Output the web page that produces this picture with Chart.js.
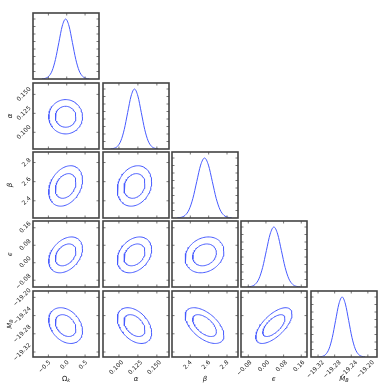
<!DOCTYPE html>
<html>
<head>
<meta charset="utf-8">
<script src="https://cdn.jsdelivr.net/npm/chart.js@4.4.1/dist/chart.umd.min.js"></script>
<style>
  body { margin: 0; background: #fff; }
  #wrap { position: relative; width: 390px; height: 390px; overflow: hidden; background: #fff; }
  #wrap canvas { position: absolute; left: 0; top: 0; }
</style>
</head>
<body>
<div id="wrap"></div>
<script>
// ---------------- DATA ----------------
const paramLabels = ["Ω", "α", "β", "ϵ", "M"];
const paramSubs = ["k", "", "", "", "B"];

// axis limits (columns use x*, rows use y*)
const xMin = [-0.92, 0.079, 2.20, -0.113, -19.337];
const xMax = [0.88, 0.166, 2.92, 0.186, -19.178];
const yMin = [0, 0.078, 2.22, -0.111, -19.331];
const yMax = [1, 0.165, 2.91, 0.191, -19.186];

const tickValues = [
    [-0.5, 0.0, 0.5],
    [0.100, 0.125, 0.150],
    [2.4, 2.6, 2.8],
    [-0.08, 0.00, 0.08, 0.16],
    [-19.32, -19.28, -19.24, -19.20]
];
const tickLabels = [
    ["−0.5", "0.0", "0.5"],
    ["0.100", "0.125", "0.150"],
    ["2.4", "2.6", "2.8"],
    ["−0.08", "0.00", "0.08", "0.16"],
    ["−19.32", "−19.28", "−19.24", "−19.20"]
];
const densityTicks = [0.125, 0.25, 0.375, 0.5, 0.625, 0.75, 0.875, 1.0];

// 1D marginals: x positions, shared relative heights
const margOmegaK = [-0.678, -0.585, -0.493, -0.40, -0.308, -0.215, -0.123, -0.03, 0.063, 0.155, 0.248, 0.34, 0.433, 0.525, 0.618];
const margAlpha = [0.0890, 0.0935, 0.098, 0.1025, 0.107, 0.1115, 0.116, 0.1205, 0.125, 0.1295, 0.134, 0.1385, 0.143, 0.1475, 0.152];
const margBeta = [2.2575, 2.30, 2.3425, 2.385, 2.4275, 2.47, 2.5125, 2.555, 2.5975, 2.64, 2.6825, 2.725, 2.7675, 2.81, 2.8525];
const margEps = [-0.083, -0.066, -0.049, -0.032, -0.015, 0.002, 0.019, 0.036, 0.053, 0.070, 0.087, 0.104, 0.121, 0.138, 0.155];
const margMB = [-19.3173, -19.3094, -19.3015, -19.2936, -19.2857, -19.2778, -19.2699, -19.262, -19.2541, -19.2462, -19.2383, -19.2304, -19.2225, -19.2146, -19.2067];
const margHeights = [0.002, 0.011, 0.044, 0.135, 0.325, 0.607, 0.882, 1.0, 0.882, 0.607, 0.325, 0.135, 0.044, 0.011, 0.002];
const marginals = [margOmegaK, margAlpha, margBeta, margEps, margMB];

// 2D contours (68% / 95%): centres, widths and tilts
const paramMeans = [-0.03, 0.1205, 2.555, 0.036, -19.262];
const paramSigmas = [0.185, 0.0091, 0.085, 0.033, 0.0158];
const corrAlpha = [0.0];
const corrBeta = [0.3, 0.2];
const corrEps = [0.35, 0.3, 0.2];
const corrMB = [-0.3, -0.4, -0.55, 0.65];
const corrRows = [[], corrAlpha, corrBeta, corrEps, corrMB];
const contourLevels = [2.30, 6.18];

// ---------------- LAYOUT ----------------
const colLeft = [33, 103, 172, 241, 311];
const rowTop = [13, 83, 152, 221, 291];
const PANEL = 66;
const SIZE = 390;
const LINE = "rgb(70, 90, 255)";
const FONT = "'DejaVu Sans', sans-serif";

Chart.defaults.font.family = FONT;

const measureCtx = document.createElement("canvas").getContext("2d");
function avgLabelW(k) {
    measureCtx.font = "6px " + FONT;
    const ws = tickLabels[k].map(s => measureCtx.measureText(s).width);
    return ws.reduce((a, b) => a + b, 0) / ws.length;
}

// ---------------- CONTOURS ----------------
function contour(jx, iy, level) {
    const mx = paramMeans[jx], my = paramMeans[iy];
    const sx = paramSigmas[jx], sy = paramSigmas[iy];
    const rho = corrRows[iy][jx];
    const r = Math.sqrt(level);
    const pts = [];
    for (let k = 0; k <= 90; k++) {
        const t = k / 90 * 2 * Math.PI;
        pts.push({
            x: mx + sx * r * Math.cos(t),
            y: my + sy * r * (rho * Math.cos(t) + Math.sqrt(1 - rho * rho) * Math.sin(t))
        });
    }
    return pts;
}

// ---------------- FRAME PLUGIN ----------------
function drawLabel(ctx, k, x, y, rot) {
    const mainFont = (k === 0 ? "" : "italic ") + "7px " + FONT;
    const subFont = "italic 5px " + FONT;
    ctx.font = mainFont;
    const w1 = ctx.measureText(paramLabels[k]).width;
    ctx.font = subFont;
    const w2 = paramSubs[k] ? ctx.measureText(paramSubs[k]).width : 0;
    ctx.save();
    ctx.translate(x, y);
    ctx.rotate(rot);
    ctx.fillStyle = "#222";
    ctx.textBaseline = "middle";
    ctx.textAlign = "left";
    ctx.font = mainFont;
    ctx.fillText(paramLabels[k], -(w1 + w2) / 2, 0);
    if (paramSubs[k]) {
        ctx.font = subFont;
        ctx.fillText(paramSubs[k], -(w1 + w2) / 2 + w1, 2);
    }
    ctx.restore();
}

const framePlugin = {
    id: "frame",
    afterDraw(chart, args, o) {
        const { ctx, chartArea: a, scales: { x, y } } = chart;
        ctx.save();
        ctx.strokeStyle = "#555";
        ctx.lineWidth = 0.8;
        ctx.beginPath();
        x.ticks.forEach(t => {
            const p = x.getPixelForValue(t.value);
            ctx.moveTo(p, a.bottom); ctx.lineTo(p, a.bottom - 2.5);
            ctx.moveTo(p, a.top); ctx.lineTo(p, a.top + 2.5);
        });
        y.ticks.forEach(t => {
            const p = y.getPixelForValue(t.value);
            ctx.moveTo(a.left, p); ctx.lineTo(a.left + 2.5, p);
            ctx.moveTo(a.right, p); ctx.lineTo(a.right - 2.5, p);
        });
        ctx.stroke();
        ctx.strokeStyle = "#444";
        ctx.lineWidth = 1.6;
        ctx.strokeRect(a.left, a.top, a.right - a.left, a.bottom - a.top);
        if (o.xLabel >= 0) drawLabel(ctx, o.xLabel, (a.left + a.right) / 2, 379, 0);
        if (o.yLabel >= 0) drawLabel(ctx, o.yLabel, 10, (a.top + a.bottom) / 2, -Math.PI / 2);
        ctx.restore();
    }
};

function noPadding(s) {
    s.paddingLeft = 0; s.paddingRight = 0; s.paddingTop = 0; s.paddingBottom = 0;
}

// ---------------- PANELS ----------------
const wrap = document.getElementById("wrap");

function makePanel(i, j) {
    const diag = i === j;
    const showY = j === 0 && !diag;
    const showX = i === 4;
    const yAxisW = showY ? colLeft[0] : 0;
    const xAxisH = showX ? SIZE - (rowTop[4] + PANEL) : 0;

    const cv = document.createElement("canvas");
    cv.width = SIZE; cv.height = SIZE;
    cv.style.width = SIZE + "px"; cv.style.height = SIZE + "px";
    wrap.appendChild(cv);

    let datasets;
    if (diag) {
        datasets = [{
            data: marginals[j].map((v, k) => ({ x: v, y: margHeights[k] })),
            borderColor: LINE, borderWidth: 1, pointRadius: 0,
            cubicInterpolationMode: "monotone", fill: false
        }];
    } else {
        datasets = contourLevels.map(lv => ({
            data: contour(j, i, lv),
            borderColor: LINE, borderWidth: 1, pointRadius: 0,
            tension: 0, fill: false
        }));
    }

    const xLw = avgLabelW(j);
    const yLw = avgLabelW(i);

    new Chart(cv, {
        type: "line",
        data: { datasets },
        options: {
            responsive: false,
            animation: false,
            devicePixelRatio: 1,
            events: [],
            layout: {
                padding: {
                    left: colLeft[j] - yAxisW,
                    top: rowTop[i],
                    right: SIZE - colLeft[j] - PANEL,
                    bottom: SIZE - rowTop[i] - PANEL - xAxisH
                }
            },
            plugins: {
                legend: { display: false },
                tooltip: { enabled: false },
                frame: { xLabel: showX ? j : -1, yLabel: showY ? i : -1 }
            },
            scales: {
                x: {
                    type: "linear",
                    display: true,
                    min: xMin[j], max: xMax[j],
                    grid: { display: false, drawTicks: false },
                    border: { display: false },
                    afterBuildTicks: s => { s.ticks = tickValues[j].map(v => ({ value: v })); },
                    afterFit: s => { s.height = xAxisH; noPadding(s); },
                    ticks: {
                        display: showX,
                        autoSkip: false,
                        minRotation: 45, maxRotation: 45,
                        padding: 2,
                        labelOffset: xLw * 0.354 - 2.5,
                        color: "#222",
                        font: { size: 6 },
                        callback: (v, idx) => showX ? tickLabels[j][idx] : ""
                    }
                },
                y: {
                    type: "linear",
                    display: true,
                    min: diag ? 0 : yMin[i], max: diag ? 1.1 : yMax[i],
                    grid: { display: false, drawTicks: false },
                    border: { display: false },
                    afterBuildTicks: s => {
                        s.ticks = (diag ? densityTicks : tickValues[i]).map(v => ({ value: v }));
                    },
                    afterFit: s => { s.width = yAxisW; noPadding(s); },
                    ticks: {
                        display: showY,
                        autoSkip: false,
                        minRotation: 45, maxRotation: 45,
                        padding: 3,
                        labelOffset: -yLw * 0.354,
                        color: "#222",
                        font: { size: 6 },
                        callback: (v, idx) => showY ? tickLabels[i][idx] : ""
                    }
                }
            }
        },
        plugins: [framePlugin]
    });
}

for (let i = 0; i < 5; i++) {
    for (let j = 0; j <= i; j++) {
        makePanel(i, j);
    }
}
</script>
</body>
</html>
